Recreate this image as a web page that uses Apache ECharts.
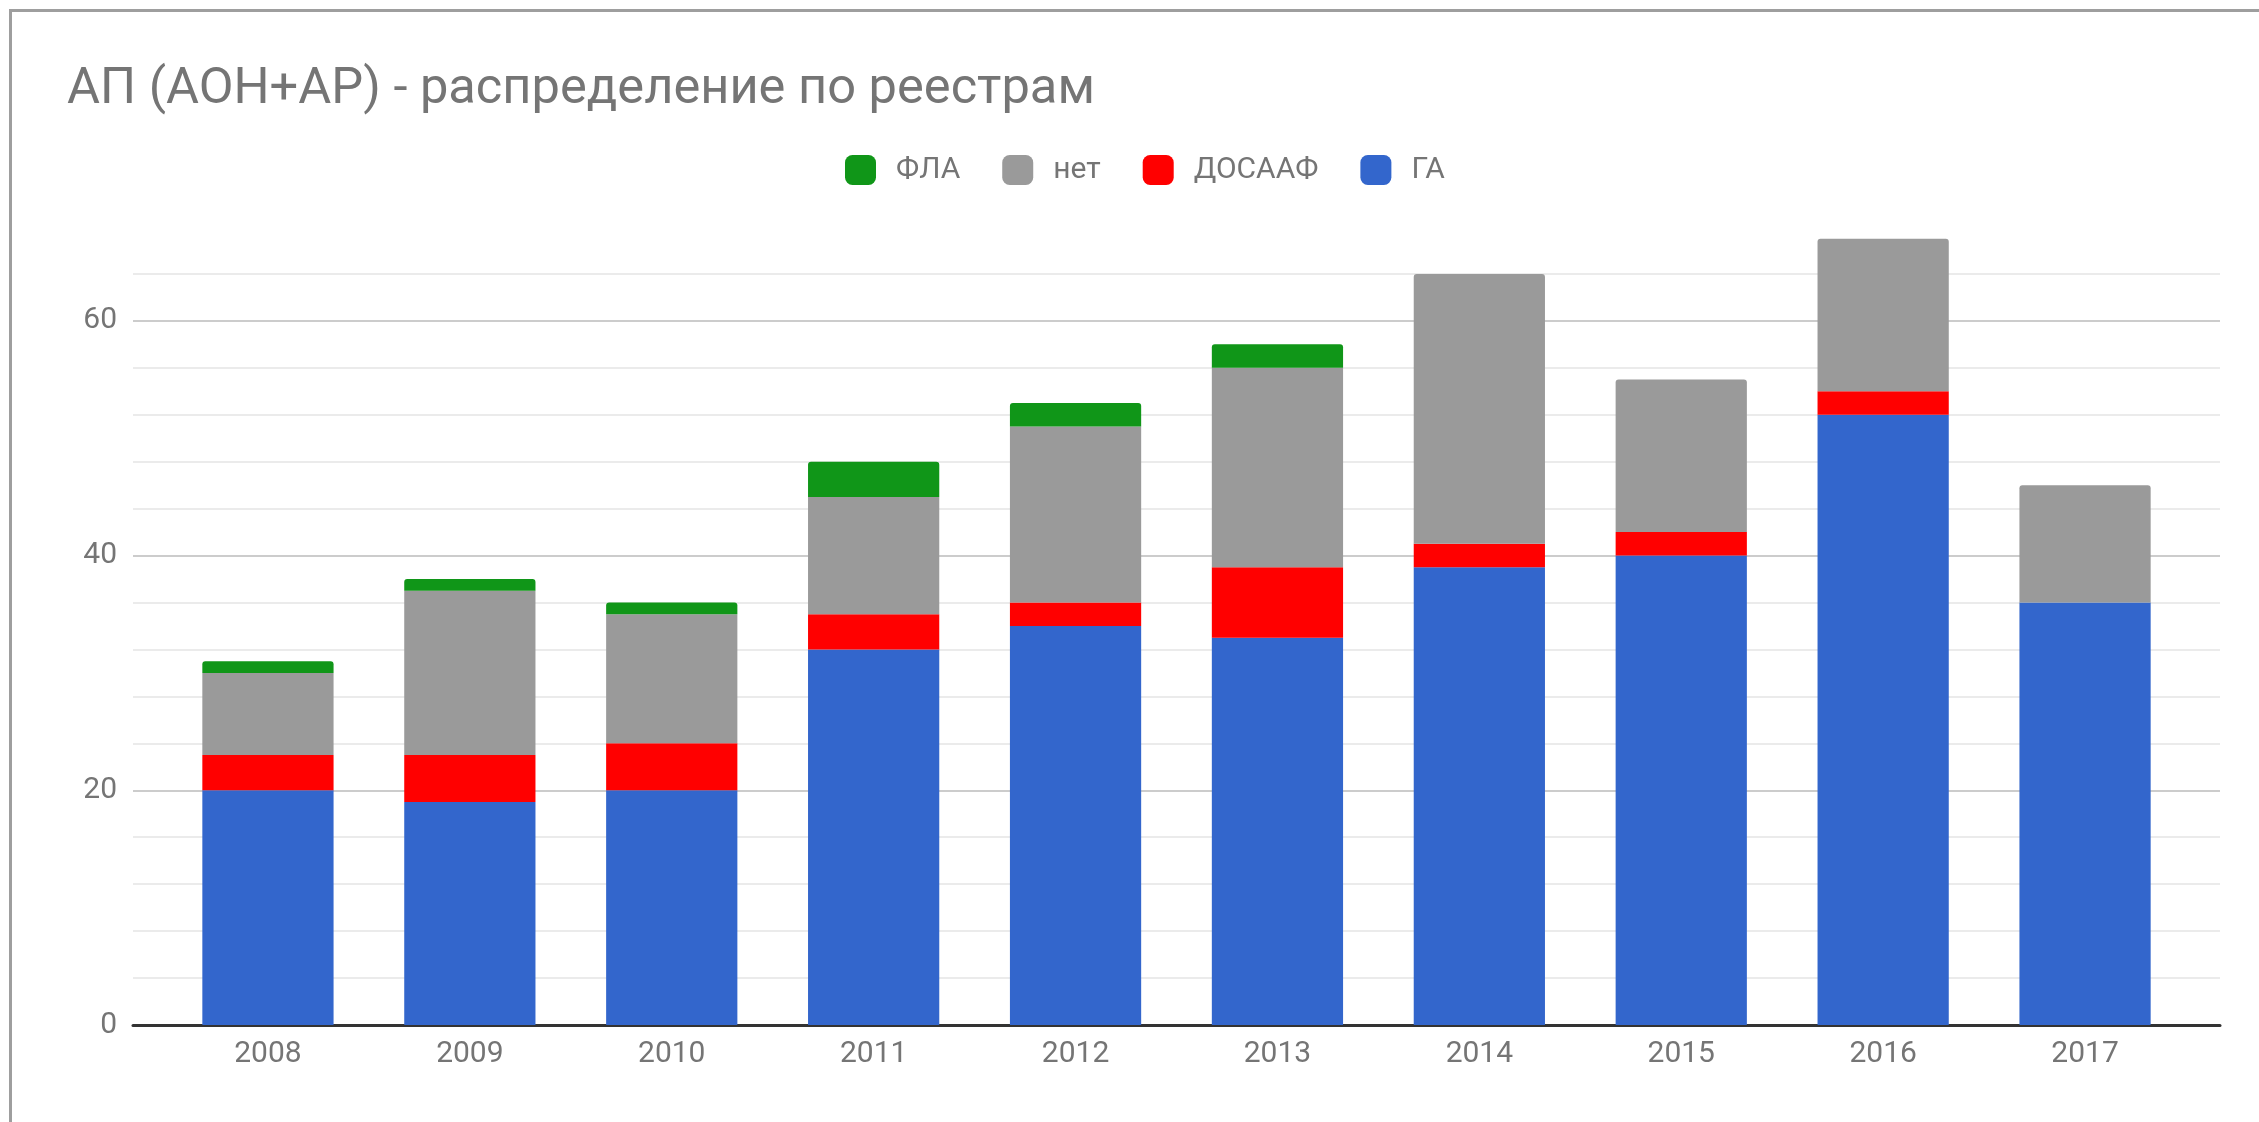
<!DOCTYPE html>
<html>
<head>
<meta charset="utf-8">
<script src="https://cdn.jsdelivr.net/npm/echarts@6/dist/echarts.min.js"></script>
<style>
  html, body { margin: 0; padding: 0; background: #fff; overflow: hidden; }
  #frame { position: absolute; left: 9px; top: 9px; width: 2400px; height: 1300px; border: 3px solid #9e9e9e; box-sizing: border-box; }
  #chart { position: absolute; left: 0; top: 0; width: 2259px; height: 1122px; }
</style>
</head>
<body>
<div id="frame"></div>
<div id="chart"></div>
<script>
const titleText = 'АП (АОН+АР) - распределение по реестрам';
const years = ['2008', '2009', '2010', '2011', '2012', '2013', '2014', '2015', '2016', '2017'];
const ga     = [20, 19, 20, 32, 34, 33, 39, 40, 52, 36];
const dosaaf = [3, 4, 4, 3, 2, 6, 2, 2, 2, 0];
const net    = [7, 14, 11, 10, 15, 17, 23, 13, 13, 10];
const fla    = [1, 1, 1, 3, 2, 2, 0, 0, 0, 0];
const seriesNames = ['ГА', 'ДОСААФ', 'нет', 'ФЛА'];
const legendOrder = ['ФЛА', 'нет', 'ДОСААФ', 'ГА'];
const yMax = 68;
const yStep = 4;

const colors = { 'ГА': '#3366cc', 'ДОСААФ': '#ff0000', 'нет': '#9a9a9a', 'ФЛА': '#109618' };
const stackValues = [ga, dosaaf, net, fla];

// find the top non-zero segment of each stack to round its top corners
const topIndex = years.map((_, i) => {
  let t = 0;
  stackValues.forEach((arr, s) => { if (arr[i] > 0) t = s; });
  return t;
});

const series = seriesNames.map((name, s) => ({
  name: name,
  type: 'bar',
  stack: 'total',
  xAxisIndex: 0,
  yAxisIndex: 0,
  barCategoryGap: '35%',
  itemStyle: { color: colors[name] },
  emphasis: { disabled: true },
  data: stackValues[s].map((v, i) => ({
    value: v,
    itemStyle: { borderRadius: topIndex[i] === s ? [3, 3, 0, 0] : 0 }
  }))
}));

const font = 'Roboto, "Noto Sans", sans-serif';
const chart = echarts.init(document.getElementById('chart'), null, { renderer: 'canvas' });
chart.setOption({
  animation: false,
  backgroundColor: 'transparent',
  textStyle: { fontFamily: font },
  title: {
    text: titleText,
    left: 67,
    top: 65,
    padding: 0,
    textStyle: { fontFamily: font, fontSize: 50.6, fontWeight: 'normal', color: '#757575' }
  },
  legend: {
    data: legendOrder,
    left: 845,
    top: 155,
    padding: 0,
    icon: 'roundRect',
    itemWidth: 31,
    itemHeight: 30,
    itemGap: 42,
    selectedMode: false,
    textStyle: { fontFamily: font, fontSize: 30, color: '#757575', padding: [0, 0, 0, 15] }
  },
  grid: [
    { left: 167, right: 73, top: 227, bottom: 97 },
    { left: 133, right: 39, top: 227, bottom: 97 }
  ],
  xAxis: [
    {
      type: 'category',
      gridIndex: 0,
      data: years,
      axisLine: { show: false },
      axisTick: { show: false },
      axisLabel: { fontFamily: font, fontSize: 30, color: '#757575', margin: 14 },
      splitLine: { show: false }
    },
    {
      type: 'value',
      gridIndex: 1,
      min: 0, max: 1,
      position: 'bottom',
      axisLine: { show: true, onZero: false, lineStyle: { color: '#333333', width: 3 } },
      axisTick: { show: false },
      axisLabel: { show: false },
      splitLine: { show: false }
    }
  ],
  yAxis: [
    {
      type: 'value',
      gridIndex: 0,
      min: 0, max: yMax, interval: yStep,
      axisLine: { show: false },
      axisTick: { show: false },
      axisLabel: { show: false },
      splitLine: { show: false }
    },
    {
      type: 'value',
      gridIndex: 1,
      min: 0, max: yMax, interval: yStep,
      axisLine: { show: false },
      axisTick: { show: false },
      axisLabel: {
        fontFamily: font, fontSize: 30, color: '#757575', margin: 16,
        formatter: v => (v % 20 === 0 ? String(v) : '')
      },
      splitLine: {
        show: true,
        showMaxLine: false,
        lineStyle: { width: 2, color: ['#cccccc', '#ebebeb', '#ebebeb', '#ebebeb', '#ebebeb'] }
      }
    }
  ],
  series: series
});
</script>
</body>
</html>
